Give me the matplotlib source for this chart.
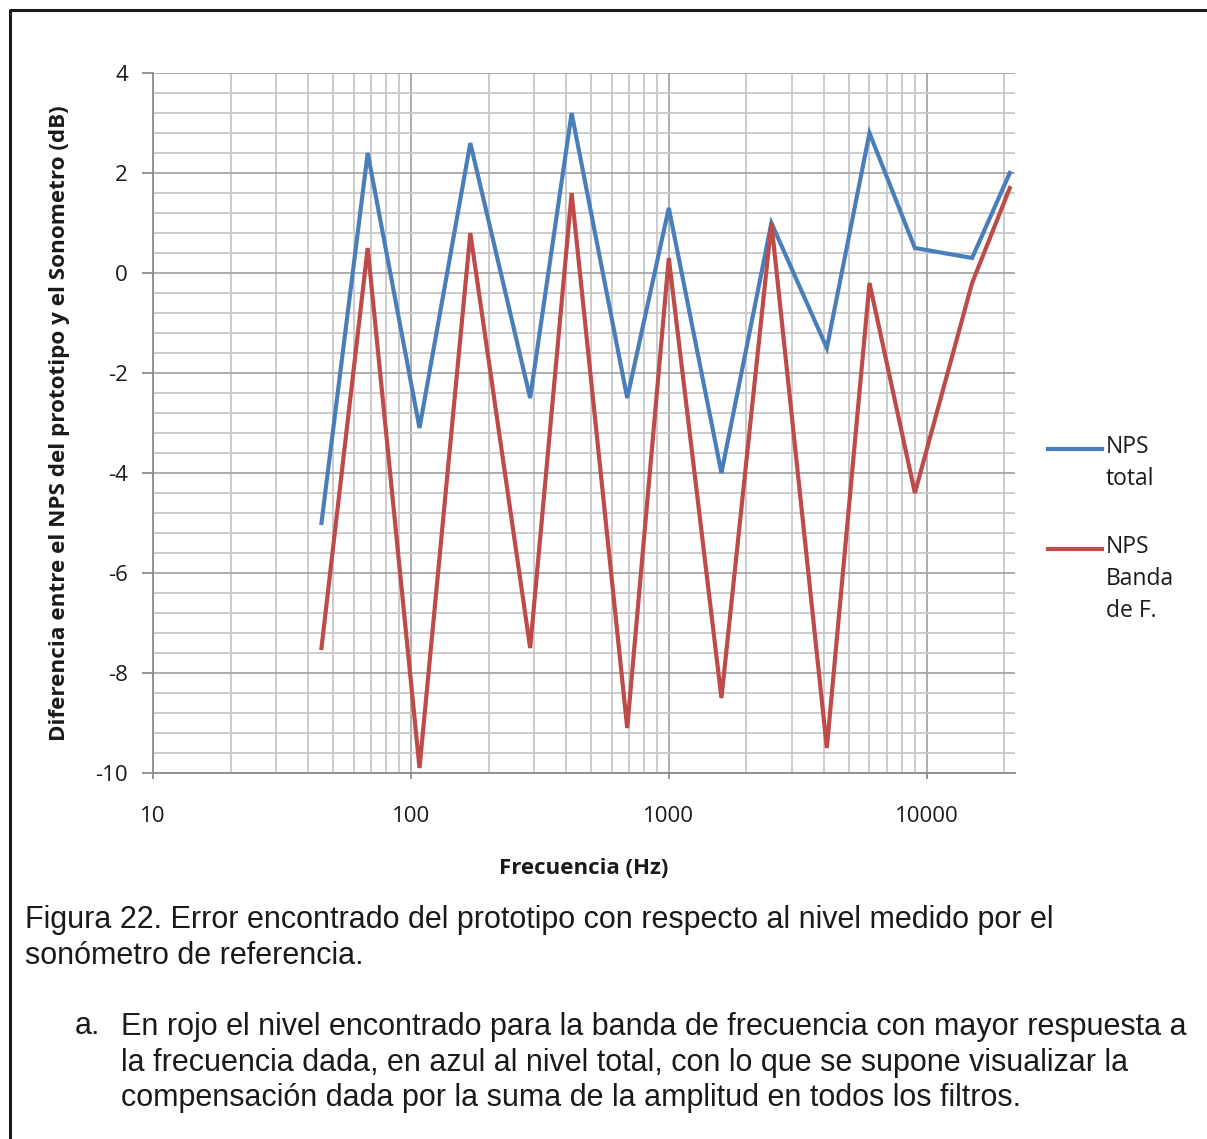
import matplotlib
matplotlib.use("Agg")
import matplotlib.pyplot as plt
from matplotlib.ticker import FixedLocator, NullFormatter, FixedFormatter
from matplotlib.lines import Line2D
import numpy as np

plt.rcParams["axes.unicode_minus"] = False

freq = [45, 68, 108, 170, 290, 420, 690, 1000, 1600, 2500, 4100, 6000, 9000, 15000, 21000]
nps_total = [-5.0, 2.4, -3.1, 2.6, -2.5, 3.2, -2.5, 1.3, -4.0, 1.0, -1.5, 2.8, 0.5, 0.3, 2.0]
nps_banda = [-7.5, 0.5, -9.9, 0.8, -7.5, 1.6, -9.1, 0.3, -8.5, 1.0, -9.5, -0.2, -4.4, -0.2, 1.7]
x_ticks = [10, 100, 1000, 10000]
x_tick_labels = ["10", "100", "1000", "10000"]
y_ticks = [4, 2, 0, -2, -4, -6, -8, -10]
series_labels = ["NPS\ntotal", "NPS\nBanda\nde F."]
ylabel = "Diferencia entre el NPS del prototipo y el Sonometro (dB)"
xlabel = "Frecuencia (Hz)"
caption1 = "Figura 22. Error encontrado del prototipo con respecto al nivel medido por el\nsonómetro de referencia."
caption2 = ("En rojo el nivel encontrado para la banda de frecuencia con mayor respuesta a\n"
            "la frecuencia dada, en azul al nivel total, con lo que se supone visualizar la\n"
            "compensación dada por la suma de la amplitud en todos los filtros.")

W, H = 1207, 1139
fig = plt.figure(figsize=(W / 100, H / 100), dpi=100)
fig.patch.set_facecolor("white")

def fx(px):
    return px / W

def fy(py):
    return 1 - py / H

ax = fig.add_axes([fx(153), fy(773), fx(1015) - fx(153), fy(73) - fy(773)])
ax.set_xscale("log")
ax.set_xlim(10, 22000)
ax.set_ylim(-10, 4)

blue = "#4a7ebb"
red = "#be4b48"
ax.plot(freq, nps_total, color=blue, lw=3.0, solid_joinstyle="miter", zorder=3)
ax.plot(freq, nps_banda, color=red, lw=3.0, solid_joinstyle="miter", zorder=3)

ax.xaxis.set_major_locator(FixedLocator(x_ticks))
ax.xaxis.set_major_formatter(FixedFormatter(x_tick_labels))
minors = [m * 10 ** e for e in range(1, 5) for m in range(2, 10)]
ax.xaxis.set_minor_locator(FixedLocator(minors))
ax.xaxis.set_minor_formatter(NullFormatter())
ax.yaxis.set_major_locator(FixedLocator(y_ticks))
ax.yaxis.set_minor_locator(FixedLocator(list(np.arange(-10, 4.01, 0.4))))

font_cal = ["Open Sans", "DejaVu Sans"]
ax.grid(True, which="major", color="#a6a6a6", lw=1.3)
ax.grid(True, which="minor", color="#c8c8c8", lw=1.3)
ax.set_axisbelow(True)
for s in ["top", "right"]:
    ax.spines[s].set_visible(False)
for s in ["left", "bottom"]:
    ax.spines[s].set_color("#8c8c8c")
    ax.spines[s].set_linewidth(1.3)
ax.tick_params(axis="both", which="major", length=8, width=1.3, color="#8c8c8c",
               labelsize=16, labelcolor="#1a1a1a")
ax.tick_params(axis="both", which="minor", length=0)
ax.tick_params(axis="x", which="major", pad=20, length=4)
ax.tick_params(axis="y", which="major", pad=10)
for lab in ax.get_xticklabels() + ax.get_yticklabels():
    lab.set_family(font_cal)

fig.text(fx(60), fy(423), ylabel, rotation=90, ha="center", va="center",
         family=font_cal, fontsize=16.2, fontweight="bold", color="#1a1a1a")
fig.text(fx(584), fy(869), xlabel, ha="center", va="center",
         family=font_cal, fontsize=16, fontweight="bold", color="#1a1a1a")

# legend
for ly, col, lab in [(449, blue, series_labels[0]), (549, red, series_labels[1])]:
    fig.add_artist(Line2D([fx(1048), fx(1102)], [fy(ly), fy(ly)], color=col, lw=3.0,
                          transform=fig.transFigure))
    fig.text(fx(1106), fy(ly - 14), lab, ha="left", va="top", family=font_cal,
             fontsize=16.5, color="#1a1a1a", linespacing=1.45)

# captions
fig.text(fx(25), fy(905), caption1, ha="left", va="top", family="Liberation Sans",
         fontsize=22, color="#1a1a1a", linespacing=1.24)
fig.text(fx(75), fy(1026), "a.", ha="left", va="center", family="Liberation Sans",
         fontsize=22, color="#1a1a1a")
fig.text(fx(121), fy(1012), caption2, ha="left", va="top", family="Liberation Sans",
         fontsize=22, color="#1a1a1a", linespacing=1.24)

# frame
fig.add_artist(Line2D([fx(10), fx(10), fx(1207)], [fy(1139), fy(10), fy(10)],
                      color="#1a1a1a", lw=2.2, transform=fig.transFigure))

fig.savefig("out.png", dpi=100, facecolor="white")
